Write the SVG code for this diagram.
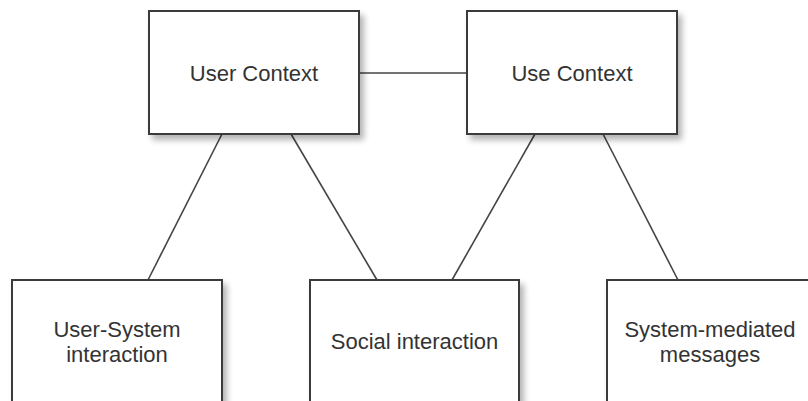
<svg xmlns="http://www.w3.org/2000/svg" width="808" height="401" viewBox="0 0 808 401">
<defs>
<filter id="sh" x="-10%" y="-10%" width="125%" height="130%">
<feGaussianBlur in="SourceAlpha" stdDeviation="3"/>
<feOffset dx="4" dy="5" result="b"/>
<feComponentTransfer><feFuncA type="linear" slope="0.3"/></feComponentTransfer>
<feMerge><feMergeNode/><feMergeNode in="SourceGraphic"/></feMerge>
</filter>
</defs>
<style>
.box{fill:#fff;stroke:#3a3a3a;stroke-width:2}
.lbl{font-family:"Liberation Sans",Arial,sans-serif;font-size:22px;fill:#333;text-anchor:middle}
.c{stroke:#444;stroke-width:1.6;fill:none}
</style>
<rect width="808" height="401" fill="#fff"/>
<g id="connectors">
<line class="c" x1="359" y1="73" x2="467" y2="73"/>
<line class="c" x1="222" y1="134" x2="148" y2="280"/>
<line class="c" x1="291" y1="134" x2="377" y2="280"/>
<line class="c" x1="535" y1="134" x2="452" y2="280"/>
<line class="c" x1="603" y1="134" x2="678" y2="280"/>
</g>
<g id="user-context">
<rect class="box" x="149" y="11" width="210" height="123" filter="url(#sh)"/>
<text class="lbl" x="254" y="81">User Context</text>
</g>
<g id="use-context">
<rect class="box" x="467" y="11" width="210" height="123" filter="url(#sh)"/>
<text class="lbl" x="572" y="81">Use Context</text>
</g>
<g id="user-system-interaction">
<rect class="box" x="12" y="280" width="210" height="124" filter="url(#sh)"/>
<text class="lbl" x="117" y="337">User-System</text>
<text class="lbl" x="117" y="362">interaction</text>
</g>
<g id="social-interaction">
<rect class="box" x="310" y="280" width="209" height="124" filter="url(#sh)"/>
<text class="lbl" x="414.5" y="349">Social interaction</text>
</g>
<g id="system-mediated-messages">
<rect class="box" x="607" y="280" width="210" height="124" filter="url(#sh)"/>
<text class="lbl" x="710" y="337">System-mediated</text>
<text class="lbl" x="710" y="362">messages</text>
</g>
</svg>
